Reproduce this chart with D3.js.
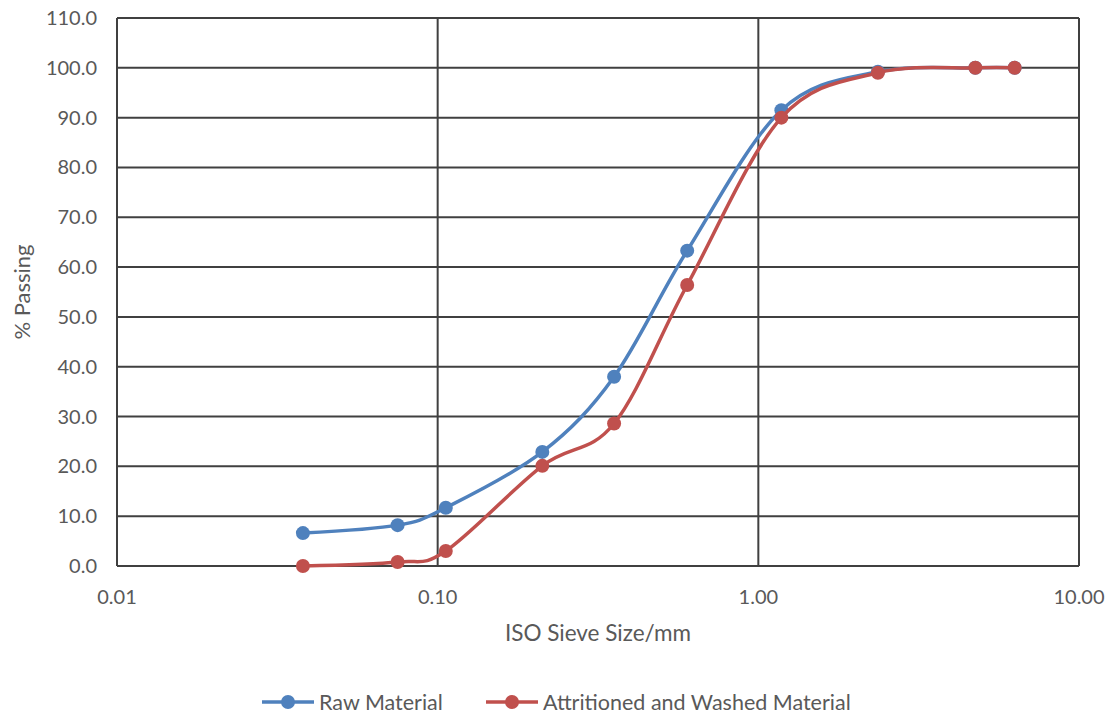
<!DOCTYPE html>
<html>
<head>
<meta charset="utf-8">
<script src="https://cdn.jsdelivr.net/npm/d3@7"></script>
<style>
  body { margin: 0; background: #fff; }
  text { font-family: Lato, "Open Sans", sans-serif; fill: #595959; }
</style>
</head>
<body>
<div id="chart"></div>
<script>
var width = 1115;
var height = 716;

// sieve sizes (mm) and % passing
var sieveSizes = [0.038, 0.075, 0.106, 0.212, 0.355, 0.6, 1.18, 2.36, 4.75, 6.3];
var rawPassing = [6.6, 8.2, 11.7, 22.9, 38.0, 63.3, 91.5, 99.2, 100.0, 100.0];
var washedPassing = [0.0, 0.8, 3.0, 20.1, 28.6, 56.4, 90.0, 99.0, 100.0, 100.0];
var xTicks = [0.01, 0.1, 1, 10];
var yTicks = [0, 10, 20, 30, 40, 50, 60, 70, 80, 90, 100, 110];
var seriesNames = ["Raw Material", "Attritioned and Washed Material"];
var seriesColors = ["#4F81BD", "#C0504D"];

var margin = {left: 117, right: 1079, top: 18, bottom: 566};

var svg = d3.select("#chart")
  .append("svg")
  .attr("width", width)
  .attr("height", height);

var x = d3.scaleLog().domain([0.01, 10]).range([margin.left, margin.right]);
var y = d3.scaleLinear().domain([0, 110]).range([margin.bottom, margin.top]);

// grid lines
svg.append("g")
  .selectAll("line")
  .data(yTicks)
  .enter()
  .append("line")
  .attr("x1", margin.left).attr("x2", margin.right)
  .attr("y1", function(d) { return y(d); })
  .attr("y2", function(d) { return y(d); })
  .attr("stroke", "#404040")
  .attr("stroke-width", 2);

svg.append("g")
  .selectAll("line")
  .data(xTicks)
  .enter()
  .append("line")
  .attr("x1", function(d) { return x(d); })
  .attr("x2", function(d) { return x(d); })
  .attr("y1", margin.top).attr("y2", margin.bottom)
  .attr("stroke", "#404040")
  .attr("stroke-width", 2);

// tick labels
svg.append("g")
  .selectAll("text")
  .data(yTicks)
  .enter()
  .append("text")
  .attr("x", 97)
  .attr("y", function(d) { return y(d); })
  .attr("dy", "0.35em")
  .attr("text-anchor", "end")
  .style("font-size", "20px")
  .text(function(d) { return d3.format(".1f")(d); });

svg.append("g")
  .selectAll("text")
  .data(xTicks)
  .enter()
  .append("text")
  .attr("x", function(d) { return x(d); })
  .attr("y", 604)
  .attr("text-anchor", "middle")
  .style("font-size", "20px")
  .text(function(d) { return d3.format(".2f")(d); });

// axis titles
svg.append("text")
  .attr("x", 598)
  .attr("y", 641)
  .attr("text-anchor", "middle")
  .style("font-size", "22.5px")
  .text("ISO Sieve Size/mm");

svg.append("text")
  .attr("transform", "translate(30,292) rotate(-90)")
  .attr("text-anchor", "middle")
  .style("font-size", "22px")
  .text("% Passing");

// series
var series = [rawPassing, washedPassing];
var line = d3.line()
  .x(function(d, i) { return x(sieveSizes[i]); })
  .y(function(d) { return y(d); })
  .curve(d3.curveCatmullRom.alpha(0));

series.forEach(function(vals, k) {
  var g = svg.append("g");
  g.append("path")
    .datum(vals)
    .attr("d", line)
    .attr("fill", "none")
    .attr("stroke", seriesColors[k])
    .attr("stroke-width", 3.5);
  g.selectAll("circle")
    .data(vals)
    .enter()
    .append("circle")
    .attr("cx", function(d, i) { return x(sieveSizes[i]); })
    .attr("cy", function(d) { return y(d); })
    .attr("r", 7)
    .attr("fill", seriesColors[k]);
});

// legend
var legendX = [262, 486];
seriesNames.forEach(function(name, k) {
  var g = svg.append("g").attr("transform", "translate(" + legendX[k] + ",702)");
  g.append("line")
    .attr("x1", 0).attr("x2", 52)
    .attr("stroke", seriesColors[k])
    .attr("stroke-width", 3.5);
  g.append("circle")
    .attr("cx", 26).attr("r", 7)
    .attr("fill", seriesColors[k]);
  g.append("text")
    .attr("x", 57)
    .attr("dy", "0.35em")
    .style("font-size", "21.5px")
    .text(name);
});
</script>
</body>
</html>
